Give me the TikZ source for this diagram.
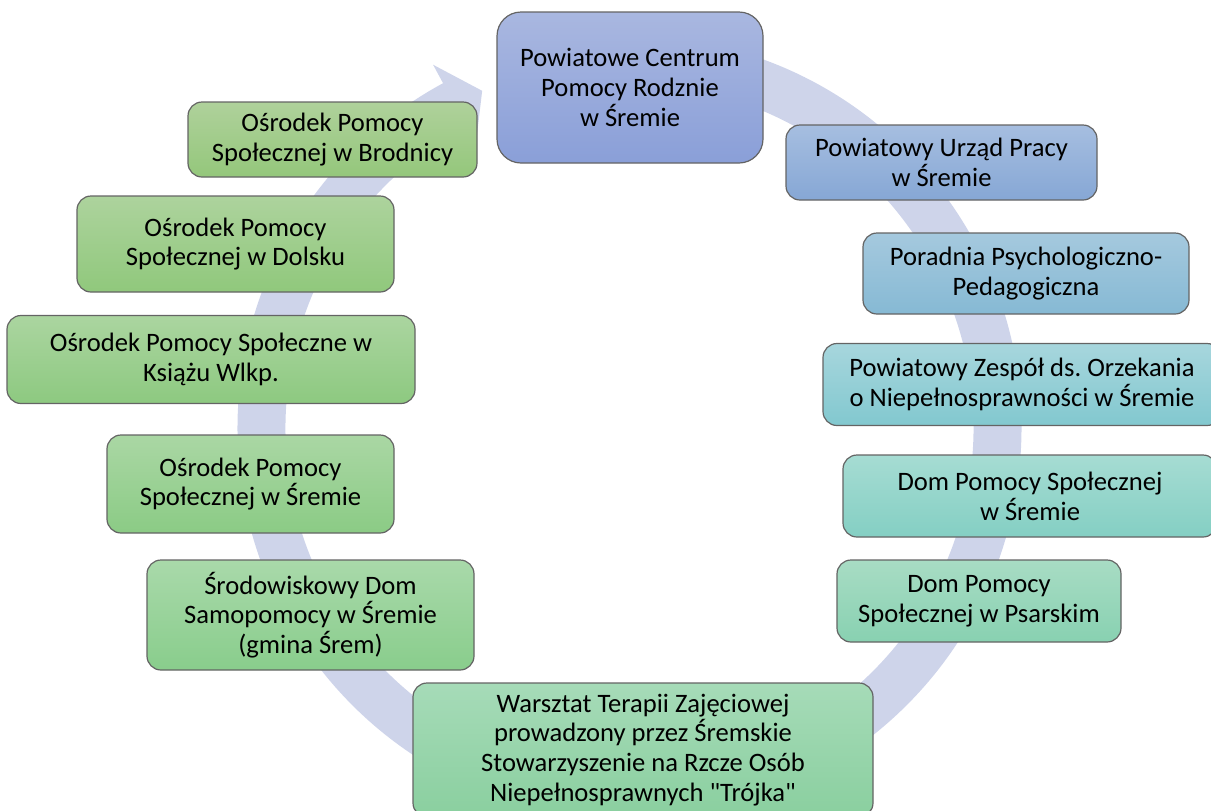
\documentclass[tikz,border=0pt]{standalone}
\usepackage{fontspec}
\setmainfont{Carlito}
\frenchspacing
\definecolor{ringblue}{HTML}{CED4EA}
\definecolor{boxline}{HTML}{646464}
\definecolor{pcprtop}{HTML}{A9B7E0}
\definecolor{pcprbot}{HTML}{8A9FD8}
\definecolor{puptop}{HTML}{A6BEE0}
\definecolor{pupbot}{HTML}{86A7D5}
\definecolor{ppptop}{HTML}{A5C9DE}
\definecolor{pppbot}{HTML}{86B9D4}
\definecolor{pzotop}{HTML}{A7D6DD}
\definecolor{pzobot}{HTML}{82C8CF}
\definecolor{dpstop}{HTML}{A6DCD3}
\definecolor{dpsbot}{HTML}{84CFC3}
\definecolor{psatop}{HTML}{A8DCC4}
\definecolor{psabot}{HTML}{88D1B1}
\definecolor{wtztop}{HTML}{A6DBB8}
\definecolor{wtzbot}{HTML}{8ACF9F}
\definecolor{sdstop}{HTML}{A9D9AA}
\definecolor{sdsbot}{HTML}{89CD8C}
\definecolor{opsstop}{HTML}{AAD7A4}
\definecolor{opssbot}{HTML}{8BCB85}
\definecolor{opsktop}{HTML}{ABD5A0}
\definecolor{opskbot}{HTML}{8DC980}
\definecolor{opsdtop}{HTML}{ADD39D}
\definecolor{opsdbot}{HTML}{90C87C}
\definecolor{opsbtop}{HTML}{AFD19B}
\definecolor{opsbbot}{HTML}{94C77B}
\begin{document}
\begin{tikzpicture}[x=0.5pt,y=0.5pt,
  box/.style={draw=boxline,line width=0.6pt,rounded corners=7pt,align=center,
    inner sep=0pt,font=\fontsize{13.3}{14.9}\selectfont},
  shadeof/.style={top color=#1top,bottom color=#1bot}]
\useasboundingbox (0,0) rectangle (1211,-810);
% the ring arrow behind the boxes
\begin{scope}[shift={(629.5,-428)}]
\fill[ringblue] (85:392) arc[start angle=85,end angle=-241.6,radius=392]
  -- (118.4:413) -- (113.6:368) -- (118.4:323) -- (118.4:344)
  arc[start angle=-241.6,end angle=85,radius=344] -- cycle;
\end{scope}
% boxes, clockwise from the top
\node[box,shadeof=pcpr,rounded corners=12pt,minimum width=133,minimum height=75.5] (pcpr) at (630,-87.5)
  {Powiatowe Centrum\\Pomocy Rodznie\\w Śremie};
\node[box,shadeof=pup,minimum width=155.5,minimum height=37.5] (pup) at (941.5,-162.5)
  {Powiatowy Urząd Pracy\\w Śremie};
\node[box,shadeof=ppp,minimum width=163,minimum height=40.5] (ppp) at (1026,-273.5)
  {Poradnia Psychologiczno-\\Pedagogiczna};
\node[box,shadeof=pzo,minimum width=199,minimum height=41] (pzo) at (1022,-384.5)
  {Powiatowy Zespół ds. Orzekania\\o Niepełnosprawności w Śremie};
\node[box,shadeof=dps,minimum width=187,minimum height=41] (dps) at (1030,-496)
  {Dom Pomocy Społecznej\\w Śremie};
\node[box,shadeof=psa,minimum width=142,minimum height=41] (psa) at (979,-601)
  {Dom Pomocy\\Społecznej w Psarskim};
\node[box,shadeof=wtz,minimum width=230,minimum height=67] (wtz) at (643,-750)
  {Warsztat Terapii Zajęciowej\\prowadzony przez Śremskie\\Stowarzyszenie na Rzcze Osób\\Niepełnosprawnych \textquotedbl Trójka\textquotedbl};
\node[box,shadeof=sds,minimum width=163.5,minimum height=55] (sds) at (310.5,-615)
  {Środowiskowy Dom\\Samopomocy w Śremie\\(gmina Śrem)};
\node[box,shadeof=opss,minimum width=143.5,minimum height=49] (opss) at (250.5,-484)
  {Ośrodek Pomocy\\Społecznej w Śremie};
\node[box,shadeof=opsk,minimum width=204,minimum height=44] (opsk) at (211,-359.5)
  {Ośrodek Pomocy Społeczne w\\Książu Wlkp.};
\node[box,shadeof=opsd,minimum width=158.5,minimum height=48] (opsd) at (235.5,-244)
  {Ośrodek Pomocy\\Społecznej w Dolsku};
\node[box,shadeof=opsb,minimum width=144.5,minimum height=37.5] (opsb) at (332.5,-139.5)
  {Ośrodek Pomocy\\Społecznej w Brodnicy};
\end{tikzpicture}
\end{document}
